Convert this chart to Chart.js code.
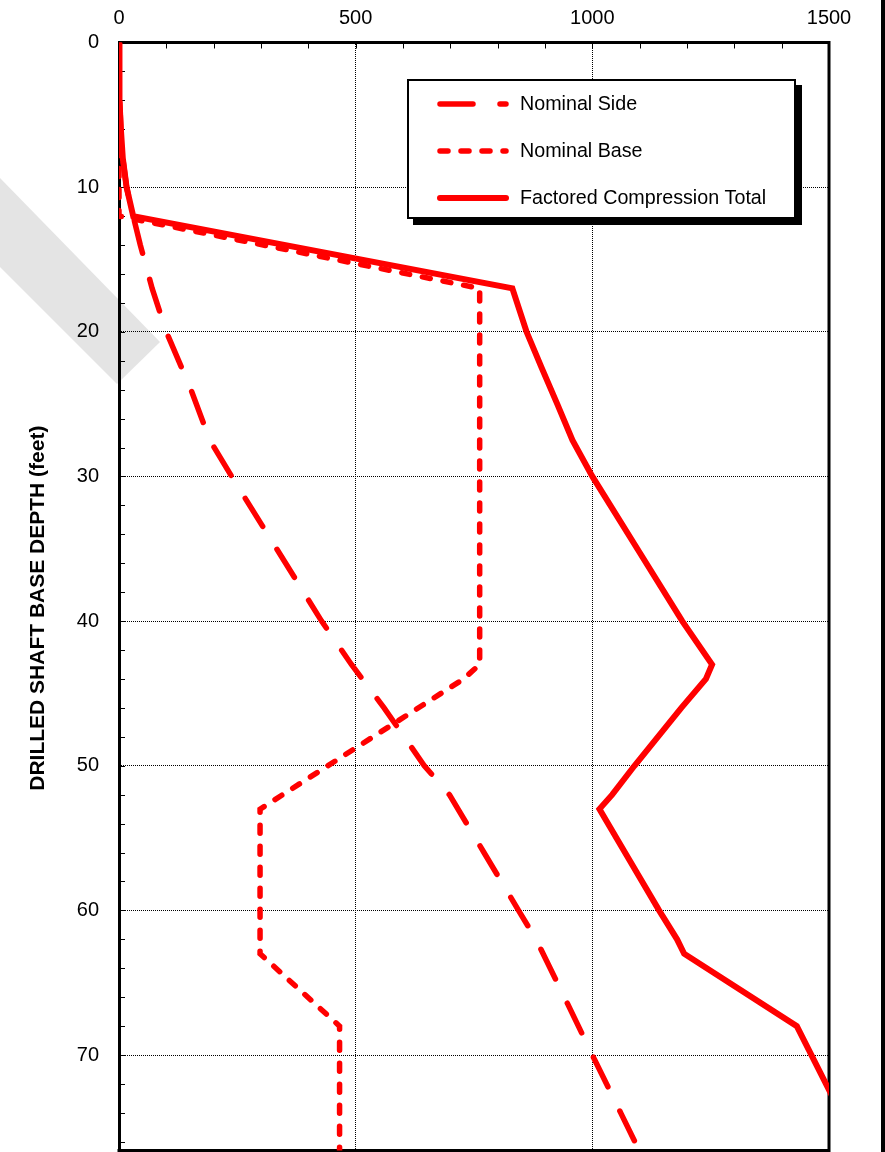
<!DOCTYPE html>
<html lang="en">
<head>
    <meta charset="UTF-8">
    <title>Drilled shaft capacity vs base depth</title>
    <style>
        body {
            margin: 0;
            background: #fff;
        }
        .frame {
            position: relative;
            width: 885px;
            height: 1152px;
            overflow: hidden;
        }
        .edge {
            position: absolute;
            left: 881px;
            top: 0;
            width: 4px;
            height: 1152px;
            background: #000;
        }
        canvas {
            display: block;
        }
    </style>
</head>
<body>
    <div class="frame">
        <canvas id="capacityChart" width="885" height="1152"></canvas>
        <div class="edge"></div>
    </div>

    <script src="https://cdn.jsdelivr.net/npm/chart.js"></script>
    <script>
        // values (load on x, depth in feet on y)
        const sideDepth = [0, 2, 4, 6, 8, 10, 12, 14, 17, 20, 24, 27.5, 30, 35, 40, 43, 46, 50, 52, 56, 60, 62, 66, 70, 74, 77];
        const sideLoad = [0, 0.5, 1.5, 4, 8, 16, 30, 45, 70, 100, 152, 192, 238, 333, 428, 491, 560, 645, 698, 771, 844, 881, 941, 1000, 1060, 1105];

        const baseDepth = [0, 12, 17, 43, 44, 53, 63, 68, 77];
        const baseLoad = [0, 0, 762, 762, 728, 298, 298, 466, 466];

        const totalDepth = [0, 2, 4, 6, 8, 10, 12, 17, 20, 22.5, 25, 27.5, 30, 35, 40, 43, 44, 46, 50, 52, 53, 56, 60, 62, 63, 68, 77];
        const totalLoad = [0, 0.5, 1.5, 4, 8, 16, 30, 831, 861, 893, 926, 958, 1000, 1095, 1190, 1253, 1240, 1188, 1089, 1042, 1015, 1069, 1141, 1179, 1194, 1432, 1571];

        const seriesLabels = ['Nominal Side', 'Nominal Base', 'Factored Compression Total'];
        const loadTicks = [0, 500, 1000, 1500];
        const depthTicks = [0, 10, 20, 30, 40, 50, 60, 70];
        const loadMax = 1500;
        const depthMax = 76.6;

        Chart.defaults.font.family = 'Arial, "Liberation Sans", sans-serif';
        Chart.defaults.color = '#000';

        function toPoints(depths, loads) {
            return depths.map((d, i) => ({ x: loads[i], y: d }));
        }

        // grey diagonal stamp in the top left corner of the sheet
        const watermark = {
            id: 'watermark',
            beforeDraw(chart) {
                const ctx = chart.ctx;
                ctx.save();
                ctx.fillStyle = '#fff';
                ctx.fillRect(0, 0, chart.width, chart.height);
                ctx.fillStyle = '#e4e4e4';
                ctx.beginPath();
                ctx.moveTo(0, 178);
                ctx.lineTo(160, 342);
                ctx.lineTo(117, 384);
                ctx.lineTo(0, 267);
                ctx.closePath();
                ctx.fill();
                ctx.restore();
            }
        };

        // right + bottom border and the small inward ticks
        const frame = {
            id: 'frame',
            beforeDatasetsDraw(chart) {
                const { ctx, chartArea: a, scales: { x, y } } = chart;
                ctx.save();
                ctx.strokeStyle = '#000';
                ctx.lineWidth = 3;
                ctx.beginPath();
                ctx.moveTo(a.right, a.top - 1.5);
                ctx.lineTo(a.right, a.bottom);
                ctx.lineTo(a.left - 1.5, a.bottom);
                ctx.stroke();

                ctx.lineWidth = 1;
                ctx.beginPath();
                for (let v = 0; v <= loadMax; v += 100) {
                    const px = Math.round(x.getPixelForValue(v)) + 0.5;
                    ctx.moveTo(px, a.top);
                    ctx.lineTo(px, a.top + 6);
                }
                for (let d = 0; d <= depthMax; d += 2) {
                    const py = Math.round(y.getPixelForValue(d)) + 0.5;
                    ctx.moveTo(a.left, py);
                    ctx.lineTo(a.left + 6, py);
                }
                ctx.stroke();
                ctx.restore();
            }
        };

        // boxed legend with a drop shadow
        const boxLegend = {
            id: 'boxLegend',
            afterDraw(chart) {
                const ctx = chart.ctx;
                const left = 408, top = 80, w = 387, h = 138;
                ctx.save();
                ctx.fillStyle = '#000';
                ctx.fillRect(left + 5, top + 5, w + 2, h + 2);
                ctx.fillStyle = '#fff';
                ctx.fillRect(left, top, w, h);
                ctx.lineWidth = 2;
                ctx.strokeStyle = '#000';
                ctx.strokeRect(left, top, w, h);

                ctx.font = '19.7px Arial, "Liberation Sans", sans-serif';
                ctx.textBaseline = 'middle';
                chart.data.datasets.forEach((ds, row) => {
                    const cy = top + 24 + row * 47;
                    ctx.strokeStyle = ds.borderColor;
                    ctx.lineWidth = ds.borderWidth;
                    ctx.lineCap = 'round';
                    ctx.setLineDash(ds.borderDash || []);
                    ctx.beginPath();
                    ctx.moveTo(440, cy);
                    ctx.lineTo(506, cy);
                    ctx.stroke();
                    ctx.setLineDash([]);
                    ctx.fillStyle = '#000';
                    ctx.fillText(ds.label, 520, cy + 1);
                });
                ctx.restore();
            }
        };

        new Chart(document.getElementById('capacityChart'), {
            type: 'line',
            data: {
                datasets: [
                    {
                        label: seriesLabels[0],
                        data: toPoints(sideDepth, sideLoad),
                        borderColor: '#ff0000',
                        borderWidth: 5.5,
                        borderDash: [33, 27],
                        borderCapStyle: 'round',
                        order: 1
                    },
                    {
                        label: seriesLabels[1],
                        data: toPoints(baseDepth, baseLoad),
                        borderColor: '#ff0000',
                        borderWidth: 5.5,
                        borderDash: [8, 13],
                        borderCapStyle: 'round',
                        order: 2
                    },
                    {
                        label: seriesLabels[2],
                        data: toPoints(totalDepth, totalLoad),
                        borderColor: '#ff0000',
                        borderWidth: 6,
                        order: 0
                    }
                ]
            },
            options: {
                responsive: false,
                devicePixelRatio: 1,
                animation: false,
                layout: {
                    padding: { left: 0, top: 0, right: 56, bottom: 1.5 }
                },
                plugins: {
                    legend: { display: false },
                    tooltip: { enabled: false }
                },
                elements: {
                    point: { radius: 0 },
                    line: { tension: 0, fill: false }
                },
                scales: {
                    x: {
                        type: 'linear',
                        position: 'top',
                        min: 0,
                        max: loadMax,
                        afterFit: s => {
                            s.height = 42.5;
                            s.paddingLeft = 0;
                            s.paddingRight = 0;
                        },
                        afterBuildTicks: s => { s.ticks = loadTicks.map(v => ({ value: v })); },
                        ticks: {
                            padding: 12,
                            font: { size: 20 },
                            color: '#000',
                            callback: v => String(v)
                        },
                        grid: { color: '#000', lineWidth: 1, drawTicks: false },
                        border: { display: true, color: '#000', width: 3, dash: [1, 1] }
                    },
                    y: {
                        type: 'linear',
                        reverse: true,
                        min: 0,
                        max: depthMax,
                        afterFit: s => {
                            s.width = 119;
                            s.paddingTop = 0;
                            s.paddingBottom = 0;
                        },
                        afterBuildTicks: s => { s.ticks = depthTicks.map(v => ({ value: v })); },
                        ticks: {
                            padding: 20,
                            font: { size: 20 },
                            color: '#000',
                            callback: v => String(v)
                        },
                        grid: { color: '#000', lineWidth: 1, drawTicks: false },
                        border: { display: true, color: '#000', width: 3, dash: [1, 1] },
                        title: {
                            display: true,
                            // trailing spaces nudge the label a little lower, like the original
                            text: 'DRILLED SHAFT BASE DEPTH (feet)    ',
                            color: '#000',
                            font: { size: 21, weight: 'bold' },
                            padding: { top: 26, bottom: 0 }
                        }
                    }
                }
            },
            plugins: [watermark, frame, boxLegend]
        });
    </script>
</body>
</html>
